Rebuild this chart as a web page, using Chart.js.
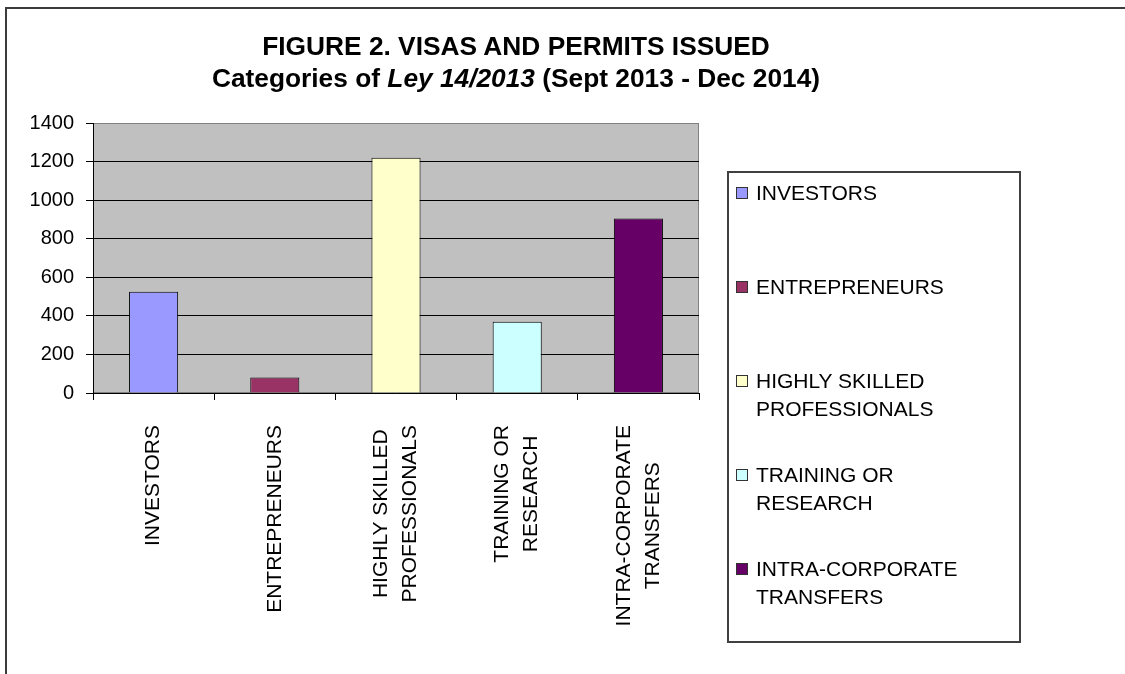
<!DOCTYPE html>
<html>
<head>
<meta charset="utf-8">
<title>Figure 2. Visas and permits issued</title>
<script src="https://cdn.jsdelivr.net/npm/chart.js@4.4.1/dist/chart.umd.min.js"></script>
<style>
  html, body { margin: 0; padding: 0; background: #fff; overflow: hidden; }
  body { width: 1125px; height: 674px; position: relative; font-family: Arial, "Liberation Sans", sans-serif; color: #000; }
  #frame { position: absolute; left: 5px; top: 7px; width: 1300px; height: 900px;
           border-left: 2px solid #3c3c3c; border-top: 2px solid #3c3c3c; }
  #chart { position: absolute; left: 0; top: 0; }
  #title { position: absolute; left: 0; top: 30px; width: 1032px; text-align: center;
           font-weight: bold; font-size: 26.3px; line-height: 32px; }
  #legend { position: absolute; left: 727px; top: 171px; width: 294px; height: 472px;
            box-sizing: border-box; border: 2px solid #404040; padding-top: 6px; background: #fff; }
  #legend .item { position: relative; height: 94px; padding-left: 27px; font-size: 21px; line-height: 28px; }
  #legend .swatch { position: absolute; left: 7px; top: 8px; width: 10px; height: 10px; border: 1px solid #333; }
</style>
</head>
<body>
<div id="frame"></div>
<canvas id="chart" width="1125" height="674"></canvas>
<div id="title">FIGURE 2. VISAS AND PERMITS ISSUED<br>Categories of <i>Ley 14/2013</i> (Sept 2013 - Dec 2014)</div>
<div id="legend"></div>
<script>
const categories = ['INVESTORS', 'ENTREPRENEURS', ['HIGHLY SKILLED', 'PROFESSIONALS'], ['TRAINING OR', 'RESEARCH'], ['INTRA-CORPORATE', 'TRANSFERS']];
const permits = [525, 80, 1220, 370, 905];
const barColors = ['#9999FF', '#993366', '#FFFFCC', '#CCFFFF', '#660066'];
const yTicks = [0, 200, 400, 600, 800, 1000, 1200, 1400];

const fontFamily = 'Arial, "Liberation Sans", sans-serif';

// grey plot area with a thin grey frame, like the old Excel charts
const plotBackground = {
  id: 'plotBackground',
  beforeDraw(chart) {
    const { ctx, chartArea: a } = chart;
    ctx.save();
    ctx.fillStyle = '#C0C0C0';
    ctx.fillRect(a.left, a.top, a.right - a.left, a.bottom - a.top);
    ctx.strokeStyle = '#808080';
    ctx.lineWidth = 1;
    ctx.strokeRect(a.left + 0.5, a.top + 0.5, a.right - a.left - 1, a.bottom - a.top - 1);
    ctx.restore();
  }
};

// category labels turned 90deg, lines of a label centred on each other
const verticalLabels = {
  id: 'verticalLabels',
  afterDraw(chart) {
    const { ctx } = chart;
    const x = chart.scales.x;
    ctx.save();
    ctx.font = '21px ' + fontFamily;
    ctx.fillStyle = '#000';
    ctx.textAlign = 'center';
    ctx.textBaseline = 'middle';
    categories.forEach((label, i) => {
      const lines = [].concat(label);
      const longest = Math.max(...lines.map(l => ctx.measureText(l).width));
      const cx = x.getPixelForTick(i);
      const cy = x.top + 32 + longest / 2;
      lines.forEach((line, j) => {
        ctx.save();
        ctx.translate(cx + (j - (lines.length - 1) / 2) * 29, cy);
        ctx.rotate(-Math.PI / 2);
        ctx.fillText(line, 0, 0);
        ctx.restore();
      });
    });
    ctx.restore();
  }
};

new Chart(document.getElementById('chart'), {
  type: 'bar',
  data: {
    labels: categories,
    datasets: [{
      data: permits,
      backgroundColor: barColors,
      borderColor: '#000',
      borderWidth: 1,
      barPercentage: 0.405,
      categoryPercentage: 1
    }]
  },
  options: {
    responsive: false,
    animation: false,
    layout: { padding: { top: 123, right: 426, bottom: 0, left: 0 } },
    plugins: { legend: { display: false }, tooltip: { enabled: false } },
    scales: {
      x: {
        grid: { offset: true, drawOnChartArea: false, tickLength: 7, color: '#000' },
        border: { color: '#000' },
        ticks: { display: false },
        afterFit: s => { s.height = 281; }
      },
      y: {
        min: yTicks[0],
        max: yTicks[yTicks.length - 1],
        ticks: {
          stepSize: yTicks[1] - yTicks[0],
          callback: v => String(v),
          color: '#000',
          padding: 12,
          font: { size: 20, family: fontFamily }
        },
        grid: {
          color: c => (c.tick && c.tick.value === yTicks[yTicks.length - 1]) ? '#808080' : '#000',
          tickColor: '#000',
          tickLength: 7
        },
        border: { color: '#000' },
        afterFit: s => { s.width = 93; }
      }
    }
  },
  plugins: [plotBackground, verticalLabels]
});

const legendEl = document.getElementById('legend');
categories.forEach((label, i) => {
  const item = document.createElement('div');
  item.className = 'item';
  const swatch = document.createElement('span');
  swatch.className = 'swatch';
  swatch.style.background = barColors[i];
  item.appendChild(swatch);
  [].concat(label).forEach((line, j) => {
    if (j) item.appendChild(document.createElement('br'));
    item.appendChild(document.createTextNode(line));
  });
  legendEl.appendChild(item);
});
</script>
</body>
</html>
